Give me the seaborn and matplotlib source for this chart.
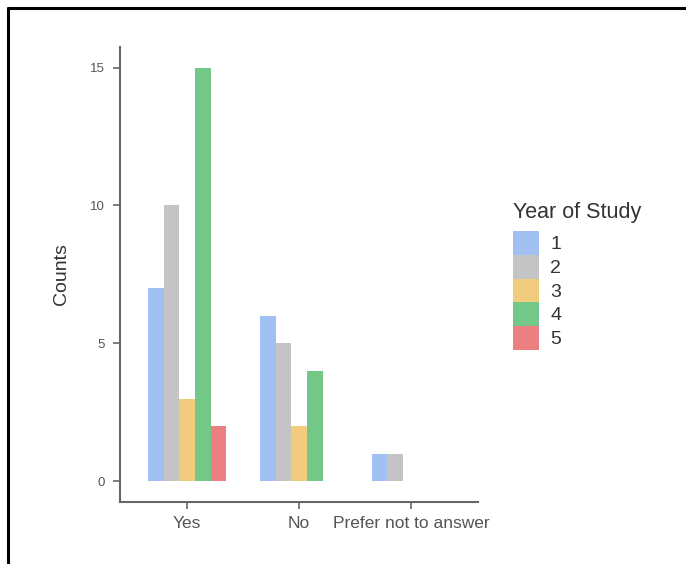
import matplotlib
matplotlib.use('Agg')
import matplotlib.pyplot as plt
import pandas as pd
import seaborn as sns
from matplotlib.lines import Line2D

# Counts per answer and year of study
answers = ['Yes', 'No', 'Prefer not to answer']
years = ['1', '2', '3', '4', '5']
yes_counts = [7, 10, 3, 15, 2]
no_counts = [6, 5, 2, 4]
prefer_counts = [1, 1]
year_colors = ['#a0c0f2', '#c4c4c4', '#f2cc7e', '#72c886', '#ec8080']

rows = []
for answer, counts in zip(answers, [yes_counts, no_counts, prefer_counts]):
    for year, c in zip(years, counts):
        rows.append({'answer': answer, 'year': year, 'count': c})
df = pd.DataFrame(rows)

sns.set_style('white')
plt.rcParams['font.family'] = ['Liberation Sans', 'DejaVu Sans']

fig = plt.figure(figsize=(6.86, 5.64), dpi=100)
ax = fig.add_axes([0.175, 0.110, 0.522, 0.807])

sns.barplot(data=df, x='answer', y='count', hue='year', order=answers,
            hue_order=years, palette=year_colors, width=0.7, saturation=1,
            dodge=True, linewidth=0, ax=ax)

ax.set_xlim(-0.6, 2.6)
ax.set_ylim(-0.75, 15.75)
ax.set_yticks([0, 5, 10, 15])
ax.set_xlabel('')
ax.set_ylabel('Counts', fontsize=14, color='#333333', labelpad=14)
ax.tick_params(axis='y', labelsize=9.5, labelcolor='#555555', length=5,
               width=1.2, color='#666666', direction='out', left=True, pad=6)
ax.tick_params(axis='x', labelsize=12.5, labelcolor='#555555', length=5,
               width=1.2, color='#666666', direction='out', bottom=True, pad=5)
sns.despine(ax=ax)
for side in ['left', 'bottom']:
    ax.spines[side].set_color('#666666')
    ax.spines[side].set_linewidth(1.5)

ax.legend_.remove()
handles = [plt.Rectangle((0, 0), 1, 1, facecolor=c, edgecolor='none') for c in year_colors]
leg = fig.legend(handles, years, title='Year of Study', loc='upper left',
                 bbox_to_anchor=(503 / 686, 1 - 192 / 564), frameon=False,
                 fontsize=14, title_fontsize=15.5, handlelength=1.34,
                 handleheight=1.5, labelspacing=0.0, handletextpad=0.6,
                 borderpad=0, alignment='left')
leg._legend_box.sep = 6
for t in leg.get_texts():
    t.set_color('#333333')
leg.get_title().set_color('#333333')

# frame lines of the original screenshot
fig.add_artist(Line2D([8 / 686, 8 / 686], [0, 1 - 8 / 564], transform=fig.transFigure,
                      color='black', linewidth=2.2))
fig.add_artist(Line2D([8 / 686, 1], [1 - 8 / 564, 1 - 8 / 564], transform=fig.transFigure,
                      color='black', linewidth=2.2))

fig.savefig('out.png', dpi=100)
